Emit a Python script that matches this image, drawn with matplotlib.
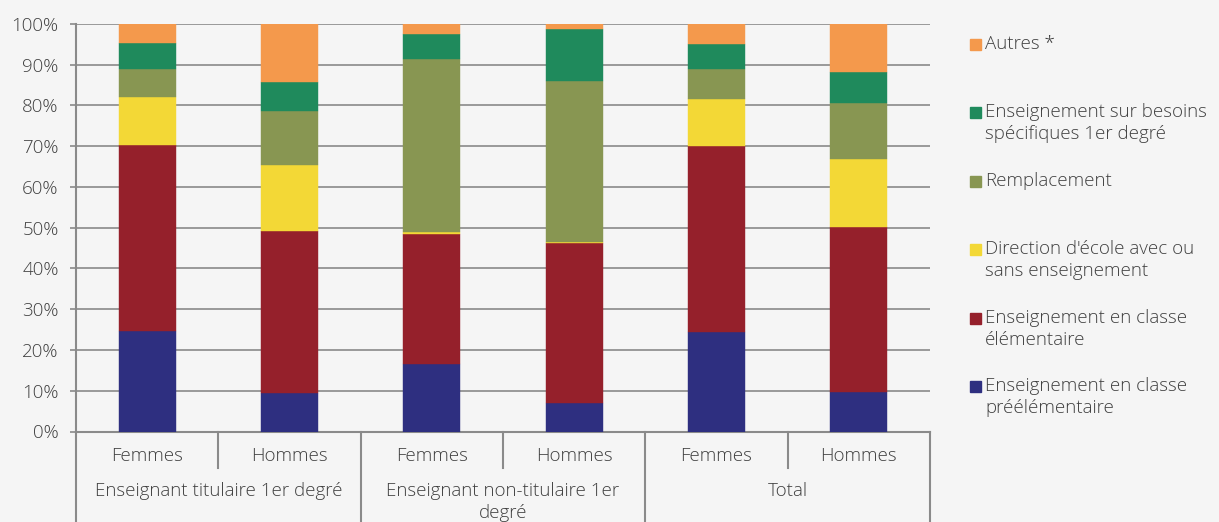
import matplotlib
matplotlib.use('Agg')
import matplotlib.pyplot as plt
import matplotlib.transforms as mtransforms
from matplotlib.patches import Rectangle
import numpy as np

# ── data ───────────────────────────────────────────────────────────────
categories = ['Femmes', 'Hommes', 'Femmes', 'Hommes', 'Femmes', 'Hommes']
groups = ['Enseignant titulaire 1er degré',
          'Enseignant non-titulaire 1er\ndegré',
          'Total']
series = ['Enseignement en classe\npréélémentaire',
          'Enseignement en classe\nélémentaire',
          "Direction d'école avec ou\nsans enseignement",
          'Remplacement',
          'Enseignement sur besoins\nspécifiques 1er degré',
          'Autres *']
preelem   = [24.7,  9.4, 16.5,  6.9, 24.5,  9.6]
elem      = [45.5, 39.7, 31.9, 39.3, 45.5, 40.7]
direction = [11.9, 16.4,  0.5,  0.3, 11.6, 16.6]
rempl     = [ 6.9, 13.2, 42.4, 39.6,  7.4, 13.7]
besoins   = [ 6.3,  7.1,  6.3, 12.6,  6.2,  7.5]
autres    = [ 4.7, 14.2,  2.4,  1.4,  4.8, 11.9]
colors = ['#2e2f80', '#95202b', '#f3d836', '#889652', '#1f8a5c', '#f4994c']

BG = '#f5f5f5'
TXT = '#404040'
LINE = '#8a8a8a'
FS = 13.5
plt.rcParams['font.family'] = ['Open Sans', 'DejaVu Sans']
plt.rcParams['font.weight'] = 'light'

W, H = 1219, 522
fig = plt.figure(figsize=(W / 100, H / 100), dpi=100, facecolor=BG)
ax = fig.add_axes([76 / W, 1 - 431.5 / H, (930 - 76) / W, 407.5 / H])
ax.set_facecolor(BG)

x = np.arange(len(categories))
bottom = np.zeros(len(categories))
for vals, col in zip([preelem, elem, direction, rempl, besoins, autres], colors):
    ax.bar(x, vals, width=0.4, bottom=bottom, color=col, zorder=3,
           edgecolor=col, linewidth=0.3)
    bottom += np.array(vals)

ax.set_xlim(-0.5, len(categories) - 0.5)
ax.set_ylim(0, 100)
ax.set_yticks(np.arange(0, 101, 10))
ax.set_yticklabels([f'{v}%' for v in range(0, 101, 10)])
ax.yaxis.grid(True, color=LINE, lw=1.2, zorder=0)
ax.tick_params(axis='y', length=4.5, width=1.2, color=LINE, pad=8,
               labelsize=FS, labelcolor=TXT)
ax.set_xticks([])
for s in ['top', 'right']:
    ax.spines[s].set_visible(False)
for s in ['left', 'bottom']:
    ax.spines[s].set_color(LINE)
    ax.spines[s].set_linewidth(1.5)

# ── hierarchical x axis ─────────────────────────────────────────────────
tr = mtransforms.blended_transform_factory(ax.transData, ax.transAxes)
y_bot = -(H - 431.5) / 407.5
y_short = -(468 - 431.5) / 407.5
for xb in np.arange(-0.5, len(categories), 1.0):
    long_line = (xb + 0.5) % 2 == 0
    ax.plot([xb, xb], [0, y_bot if long_line else y_short], color=LINE,
            lw=1.5, transform=tr, clip_on=False)
for xi, lab in zip(x, categories):
    ax.text(xi, -(456 - 431.5) / 407.5, lab, transform=tr, ha='center',
            va='center', fontsize=FS, color=TXT)
for gi, lab in enumerate(groups):
    ax.text(2 * gi + 0.5, -(482 - 431.5) / 407.5, lab, transform=tr,
            ha='center', va='top', fontsize=FS, color=TXT, linespacing=1.3)

# ── legend ─────────────────────────────────────────────────────────────
first_line_y = [386, 318, 249, 181, 112, 44]
for lab, col, py in zip(series, colors, first_line_y):
    fig.patches.append(Rectangle((970 / W, 1 - (py + 5.5) / H), 11 / W, 11 / H,
                                 transform=fig.transFigure, color=col))
    fig.text(985 / W, 1 - (py - 9) / H, lab, ha='left', va='top',
             fontsize=FS, color=TXT, linespacing=1.3)

fig.savefig('out.png', dpi=100, facecolor=BG)
